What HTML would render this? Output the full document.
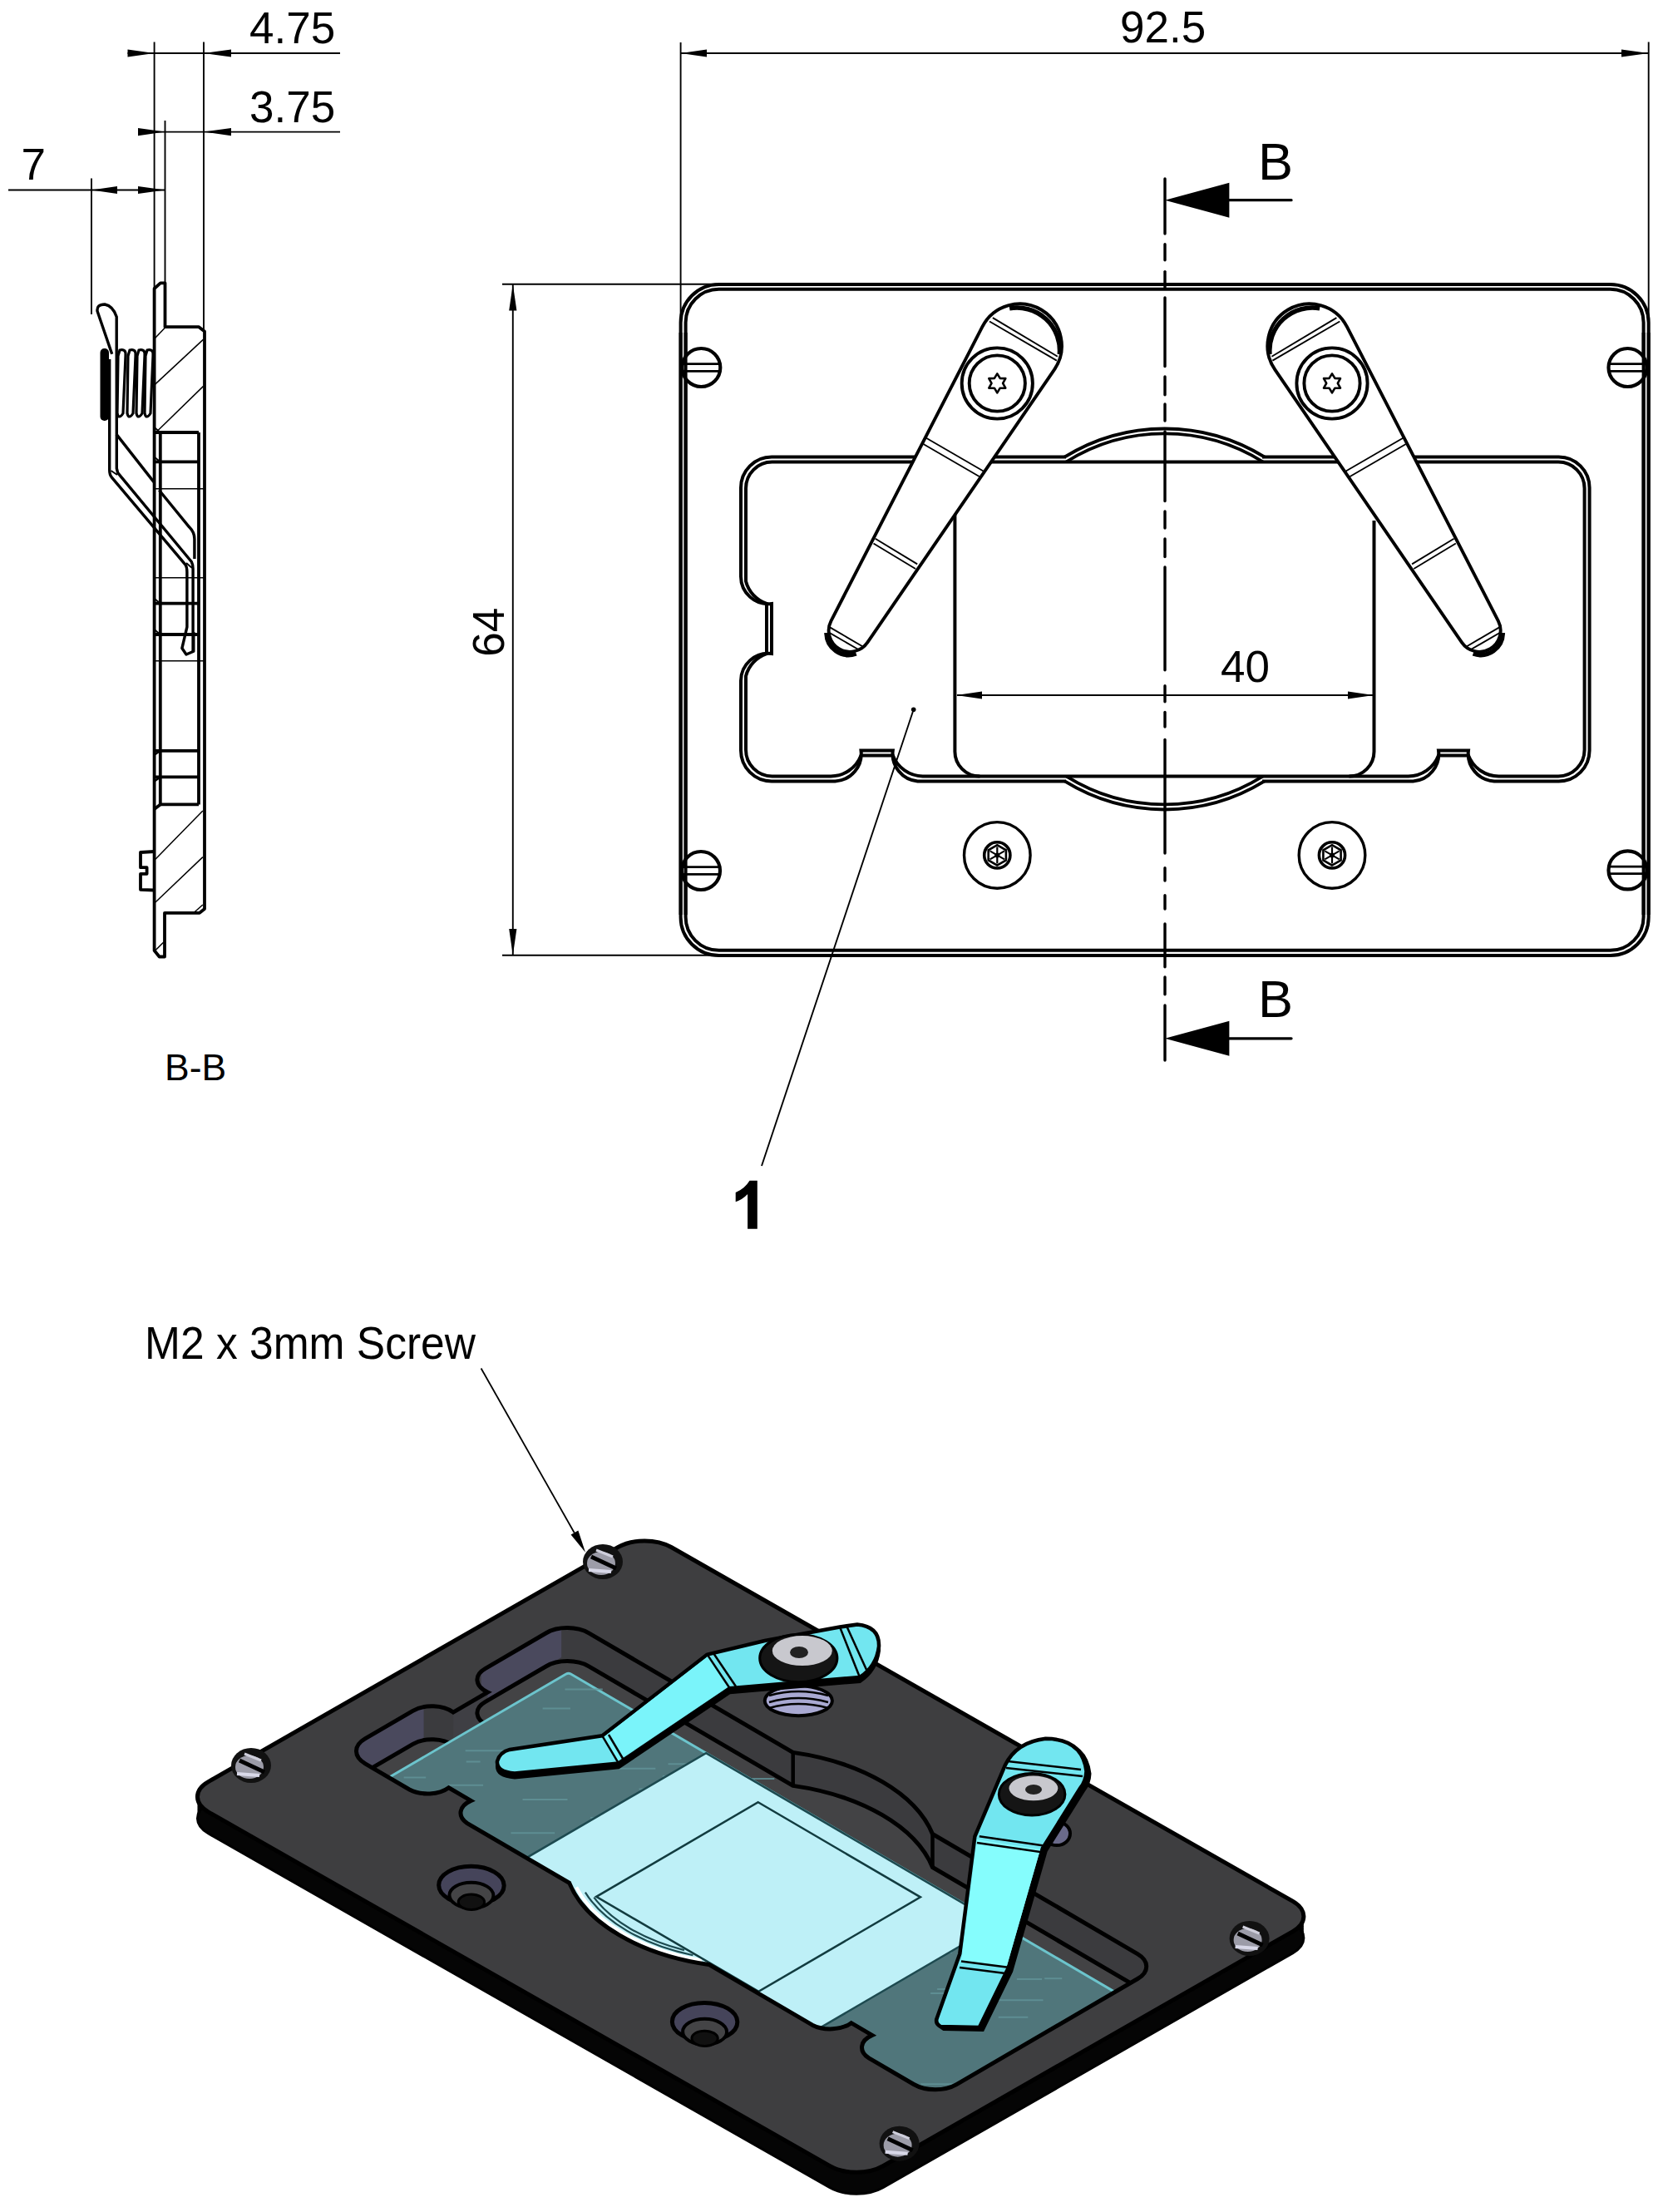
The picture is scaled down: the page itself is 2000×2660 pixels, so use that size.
<!DOCTYPE html>
<html><head><meta charset="utf-8"><style>html,body{margin:0;padding:0;background:#fff;}svg{display:block} text{font-family:"Liberation Sans", sans-serif;}</style></head>
<body><svg width="2000" height="2660" viewBox="0 0 2000 2660">
<rect width="2000" height="2660" fill="#fff"/>
<rect x="818.6" y="342" width="1164.1" height="807.0" rx="46" fill="none" stroke="#000" stroke-width="4.0"/>
<rect x="824.6" y="347.8" width="1152.0" height="795.0" rx="40" fill="none" stroke="#000" stroke-width="4.0"/>
<path d="M891,586.6 A37.0,37.0 0 0 1 928.0,549.6 L1874.6,549.6 A37.0,37.0 0 0 1 1911.6,586.6 L1911.6,902.4 A37.0,37.0 0 0 1 1874.6,939.4 L1797,939.4 A33,33 0 0 1 1766.0,902.4 L1730.0,902.4 A33,33 0 0 1 1699.5,939.4 L1103.6,939.4 A33,33 0 0 1 1073.8,902.4 L1035.5,902.4 A33,33 0 0 1 1004.3,939.4 L928.0,939.4 A37.0,37.0 0 0 1 891,902.4 L891,819 A33,33 0 0 1 928,786 L928,726 A33,33 0 0 1 891,693 Z" fill="none" stroke="#000" stroke-width="4.0"/>
<path d="M897,587.2 A31.6,31.6 0 0 1 928.6,555.6 L1874.0,555.6 A31.6,31.6 0 0 1 1905.6,587.2 L1905.6,901.8 A31.6,31.6 0 0 1 1874.0,933.4 L1803,933.4 A39,39 0 0 1 1766.0,908.4 L1730.0,908.4 A39,39 0 0 1 1693.5,933.4 L1109.6,933.4 A39,39 0 0 1 1073.8,908.4 L1035.5,908.4 A39,39 0 0 1 998.3,933.4 L928.6,933.4 A31.6,31.6 0 0 1 897,901.8 L897,813 A39,39 0 0 1 922,786 L922,726 A39,39 0 0 1 897,699 Z" fill="none" stroke="#000" stroke-width="4.0"/>
<rect x="1282" y="546.4" width="236" height="6.0" fill="#fff"/>
<rect x="1282" y="936.8" width="236" height="6.0" fill="#fff"/>
<path d="M1280.2,549.6 A229,229 0 0 1 1521.0,549.6" fill="none" stroke="#000" stroke-width="4.0"/>
<path d="M1280.5,939.4 A229,229 0 0 0 1520.7,939.4" fill="none" stroke="#000" stroke-width="4.0"/>
<path d="M1282.1,555.5 A223,223 0 0 1 1519.1,555.5" fill="none" stroke="#000" stroke-width="3.8"/>
<path d="M1282.6,933.6 A223,223 0 0 0 1518.6,933.6" fill="none" stroke="#000" stroke-width="3.8"/>
<path d="M1148.4,619 L1148.4,903 A30,30 0 0 0 1178.4,933.6" fill="none" stroke="#000" stroke-width="4"/>
<path d="M1652.5,626 L1652.5,903 A30,30 0 0 1 1622.5,933.6" fill="none" stroke="#000" stroke-width="4"/>
<circle cx="843.3" cy="442" r="23" fill="#fff" fill="none" stroke="#000" stroke-width="4.2"/>
<line x1="821.3" y1="437.7" x2="865.3" y2="437.7" stroke="#000" stroke-width="2.8" />
<line x1="821.3" y1="446.3" x2="865.3" y2="446.3" stroke="#000" stroke-width="2.8" />
<circle cx="1957.5" cy="442" r="23" fill="#fff" fill="none" stroke="#000" stroke-width="4.2"/>
<line x1="1935.5" y1="437.7" x2="1979.5" y2="437.7" stroke="#000" stroke-width="2.8" />
<line x1="1935.5" y1="446.3" x2="1979.5" y2="446.3" stroke="#000" stroke-width="2.8" />
<circle cx="843" cy="1047" r="23" fill="#fff" fill="none" stroke="#000" stroke-width="4.2"/>
<line x1="821.0" y1="1042.7" x2="865.0" y2="1042.7" stroke="#000" stroke-width="2.8" />
<line x1="821.0" y1="1051.3" x2="865.0" y2="1051.3" stroke="#000" stroke-width="2.8" />
<circle cx="1957.5" cy="1046.4" r="23" fill="#fff" fill="none" stroke="#000" stroke-width="4.2"/>
<line x1="1935.5" y1="1042.1" x2="1979.5" y2="1042.1" stroke="#000" stroke-width="2.8" />
<line x1="1935.5" y1="1050.7" x2="1979.5" y2="1050.7" stroke="#000" stroke-width="2.8" />
<line x1="818.6" y1="400.0" x2="818.6" y2="1100.0" stroke="#000" stroke-width="4.0" />
<line x1="1982.7" y1="400.0" x2="1982.7" y2="1100.0" stroke="#000" stroke-width="4.0" />
<line x1="824.6" y1="400.0" x2="824.6" y2="1100.0" stroke="#000" stroke-width="4.0" />
<line x1="1976.6" y1="400.0" x2="1976.6" y2="1100.0" stroke="#000" stroke-width="4.0" />
<circle cx="1199.3" cy="1028.4" r="39.8" fill="none" stroke="#000" stroke-width="3.4"/>
<circle cx="1199.3" cy="1028.4" r="15.6" fill="none" stroke="#000" stroke-width="3.6"/>
<polygon points="1199.3,1040.6 1188.7,1034.5 1188.7,1022.3 1199.3,1016.2 1209.9,1022.3 1209.9,1034.5" fill="none" stroke="#000" stroke-width="2.6"/>
<line x1="1199.3" y1="1018.4" x2="1199.3" y2="1038.4" stroke="#000" stroke-width="2.2" />
<line x1="1208.0" y1="1023.4" x2="1190.6" y2="1033.4" stroke="#000" stroke-width="2.2" />
<line x1="1208.0" y1="1033.4" x2="1190.6" y2="1023.4" stroke="#000" stroke-width="2.2" />
<circle cx="1199.3" cy="1028.4" r="3" fill="#000"/>
<circle cx="1602" cy="1028.4" r="39.8" fill="none" stroke="#000" stroke-width="3.4"/>
<circle cx="1602" cy="1028.4" r="15.6" fill="none" stroke="#000" stroke-width="3.6"/>
<polygon points="1602.0,1040.6 1591.4,1034.5 1591.4,1022.3 1602.0,1016.2 1612.6,1022.3 1612.6,1034.5" fill="none" stroke="#000" stroke-width="2.6"/>
<line x1="1602.0" y1="1018.4" x2="1602.0" y2="1038.4" stroke="#000" stroke-width="2.2" />
<line x1="1610.7" y1="1023.4" x2="1593.3" y2="1033.4" stroke="#000" stroke-width="2.2" />
<line x1="1610.7" y1="1033.4" x2="1593.3" y2="1023.4" stroke="#000" stroke-width="2.2" />
<circle cx="1602" cy="1028.4" r="3" fill="#000"/>
<path d="M1181.4,392.9 L999.5,746.6 A25.5,25.5 0 0 0 1043.2,772.7 L1267.9,444.6 A50.5,50.5 0 1 0 1181.4,392.9 Z" fill="#fff" fill="none" stroke="#000" stroke-width="3.9"/>
<path d="M1214.1,370.8 A51.5,51.5 0 0 1 1274.3,426.0" fill="none" stroke="#000" stroke-width="5.5"/>
<path d="M1029.6,785.9 A26.5,26.5 0 0 1 994.0,761.0" fill="none" stroke="#000" stroke-width="5.5"/>
<line x1="1193.9" y1="382.1" x2="1271.9" y2="428.8" stroke="#000" stroke-width="1.9" />
<line x1="1190.0" y1="386.5" x2="1270.9" y2="433.6" stroke="#000" stroke-width="1.9" />
<line x1="1114.0" y1="526.8" x2="1182.6" y2="566.5" stroke="#000" stroke-width="1.9" />
<line x1="1110.5" y1="534.0" x2="1179.0" y2="573.7" stroke="#000" stroke-width="1.9" />
<line x1="1052.7" y1="647.7" x2="1103.2" y2="678.4" stroke="#000" stroke-width="1.9" />
<line x1="1050.5" y1="653.5" x2="1101.0" y2="684.0" stroke="#000" stroke-width="1.9" />
<line x1="996.8" y1="753.6" x2="1037.2" y2="777.2" stroke="#000" stroke-width="1.9" />
<line x1="996.0" y1="760.0" x2="1034.0" y2="782.0" stroke="#000" stroke-width="1.9" />
<circle cx="1199.3" cy="461" r="42.6" fill="#fff" fill="none" stroke="#000" stroke-width="3.9"/>
<circle cx="1199.3" cy="461" r="33.6" fill="none" stroke="#000" stroke-width="3.9"/>
<path d="M1199.3,449.3 L1202.7,454.9 L1209.3,455.1 L1206.1,460.8 L1209.3,466.6 L1202.7,466.7 L1199.3,472.3 L1195.9,466.7 L1189.3,466.6 L1192.5,460.8 L1189.3,455.1 L1195.9,454.9 Z" fill="none" stroke="#000" stroke-width="2.6" stroke-linejoin="round"/>
<g transform="translate(2801.3,0) scale(-1,1)"><path d="M1181.4,392.9 L999.5,746.6 A25.5,25.5 0 0 0 1043.2,772.7 L1267.9,444.6 A50.5,50.5 0 1 0 1181.4,392.9 Z" fill="#fff" fill="none" stroke="#000" stroke-width="3.9"/>
<path d="M1214.1,370.8 A51.5,51.5 0 0 1 1274.3,426.0" fill="none" stroke="#000" stroke-width="5.5"/>
<path d="M1029.6,785.9 A26.5,26.5 0 0 1 994.0,761.0" fill="none" stroke="#000" stroke-width="5.5"/>
<line x1="1193.9" y1="382.1" x2="1271.9" y2="428.8" stroke="#000" stroke-width="1.9" />
<line x1="1190.0" y1="386.5" x2="1270.9" y2="433.6" stroke="#000" stroke-width="1.9" />
<line x1="1114.0" y1="526.8" x2="1182.6" y2="566.5" stroke="#000" stroke-width="1.9" />
<line x1="1110.5" y1="534.0" x2="1179.0" y2="573.7" stroke="#000" stroke-width="1.9" />
<line x1="1052.7" y1="647.7" x2="1103.2" y2="678.4" stroke="#000" stroke-width="1.9" />
<line x1="1050.5" y1="653.5" x2="1101.0" y2="684.0" stroke="#000" stroke-width="1.9" />
<line x1="996.8" y1="753.6" x2="1037.2" y2="777.2" stroke="#000" stroke-width="1.9" />
<line x1="996.0" y1="760.0" x2="1034.0" y2="782.0" stroke="#000" stroke-width="1.9" />
<circle cx="1199.3" cy="461" r="42.6" fill="#fff" fill="none" stroke="#000" stroke-width="3.9"/>
<circle cx="1199.3" cy="461" r="33.6" fill="none" stroke="#000" stroke-width="3.9"/>
<path d="M1199.3,449.3 L1202.7,454.9 L1209.3,455.1 L1206.1,460.8 L1209.3,466.6 L1202.7,466.7 L1199.3,472.3 L1195.9,466.7 L1189.3,466.6 L1192.5,460.8 L1189.3,455.1 L1195.9,454.9 Z" fill="none" stroke="#000" stroke-width="2.6" stroke-linejoin="round"/></g>
<path d="M185.6,347.0 L193.0,340.3 L198.5,340.3 L198.5,393.2 L239.2,393.2 L246.0,398.6 L246.0,1093.0 L240.0,1097.8 L198.0,1097.8 L198.0,1150.5 L191.6,1150.5 L185.6,1143.0 Z" fill="none" stroke="#000" stroke-width="3.8" stroke-linejoin="round"/>
<line x1="186.7" y1="1143.0" x2="196.8" y2="1133.0" stroke="#000" stroke-width="1.6" />
<path d="M185.6,1024.0 L169.0,1025.0 L169.0,1043.2 L176.6,1043.2 L176.6,1050.8 L169.0,1050.8 L169.0,1069.8 L185.6,1070.5" fill="none" stroke="#000" stroke-width="3.8" stroke-linejoin="round"/>
<line x1="192.8" y1="520.0" x2="192.8" y2="967.4" stroke="#000" stroke-width="3.8" />
<line x1="239.0" y1="520.0" x2="239.0" y2="967.4" stroke="#000" stroke-width="3.8" />
<line x1="185.6" y1="520.0" x2="239.0" y2="520.0" stroke="#000" stroke-width="3.8" />
<line x1="185.6" y1="555.4" x2="239.0" y2="555.4" stroke="#000" stroke-width="3.8" />
<line x1="185.6" y1="725.7" x2="239.0" y2="725.7" stroke="#000" stroke-width="3.8" />
<line x1="185.6" y1="763.0" x2="239.0" y2="763.0" stroke="#000" stroke-width="3.8" />
<line x1="185.6" y1="902.8" x2="239.0" y2="902.8" stroke="#000" stroke-width="3.8" />
<line x1="185.6" y1="934.4" x2="239.0" y2="934.4" stroke="#000" stroke-width="3.8" />
<line x1="192.8" y1="967.4" x2="239.0" y2="967.4" stroke="#000" stroke-width="3.8" />
<line x1="185.6" y1="973.0" x2="192.8" y2="967.4" stroke="#000" stroke-width="3.8" />
<line x1="185.6" y1="587.7" x2="246.0" y2="587.7" stroke="#000" stroke-width="1.5" />
<line x1="185.6" y1="694.7" x2="246.0" y2="694.7" stroke="#000" stroke-width="1.5" />
<line x1="185.6" y1="794.7" x2="246.0" y2="794.7" stroke="#000" stroke-width="1.5" />
<line x1="186.3" y1="406.8" x2="198.5" y2="393.9" stroke="#000" stroke-width="1.5" />
<line x1="186.3" y1="462.4" x2="244.6" y2="408.1" stroke="#000" stroke-width="1.5" />
<line x1="190.3" y1="517.3" x2="244.6" y2="464.4" stroke="#000" stroke-width="1.5" />
<line x1="186.9" y1="1033.2" x2="243.9" y2="975.0" stroke="#000" stroke-width="1.5" />
<line x1="186.9" y1="1085.0" x2="243.9" y2="1030.6" stroke="#000" stroke-width="1.5" />
<line x1="233.7" y1="1097.0" x2="243.9" y2="1088.0" stroke="#000" stroke-width="1.5" />
<path d="M131.7,432 L131.7,565 Q131.7,571 134.4,574.2 L223,679.1 Q224.9,682 224.9,688 L224.9,754 L218.9,779.5 L224,787 L232.8,783.3 L232.8,760" fill="none" stroke="#000" stroke-width="3.4" stroke-linejoin="round"/>
<path d="M140.3,523 L140.3,563.3 L141.7,568.7 L230.3,675.5 Q232.1,679 232.1,684 L232.1,783" fill="none" stroke="#000" stroke-width="3.4" stroke-linejoin="round"/>
<path d="M134.7,425.8 L117.1,374.2 Q116,366 126,366 Q136,368 140.2,381 L140.3,522.6 L185,579.6" fill="none" stroke="#000" stroke-width="3.4" stroke-linejoin="round"/>
<path d="M191.4,589.5 L227.6,633.8 Q233.9,640 233.9,648 L233.9,672" fill="none" stroke="#000" stroke-width="3.4" stroke-linejoin="round"/>
<line x1="133.5" y1="566.0" x2="141.0" y2="571.0" stroke="#000" stroke-width="2" />
<line x1="224.0" y1="677.0" x2="231.0" y2="683.0" stroke="#000" stroke-width="2" />
<rect x="120.5" y="419" width="10.5" height="87" rx="5" fill="#000"/>
<path d="M144,421 Q152,419 151,428 L148,497 Q143,505 141,497 L142,428 Z" fill="none" stroke="#000" stroke-width="3.2"/>
<path d="M156,421 Q164,419 163,428 L160,497 Q155,505 153,497 L154,428 Z" fill="none" stroke="#000" stroke-width="3.2"/>
<path d="M167,421 Q175,419 174,428 L171,497 Q166,505 164,497 L165,428 Z" fill="none" stroke="#000" stroke-width="3.2"/>
<path d="M177,421 Q185,419 184,428 L181,497 Q176,505 174,497 L175,428 Z" fill="none" stroke="#000" stroke-width="3.2"/>
<line x1="185.6" y1="514.0" x2="192.8" y2="520.0" stroke="#000" stroke-width="1.9" />
<line x1="185.6" y1="549.4" x2="192.8" y2="555.4" stroke="#000" stroke-width="1.9" />
<line x1="185.6" y1="719.7" x2="192.8" y2="725.7" stroke="#000" stroke-width="1.9" />
<line x1="185.6" y1="757.0" x2="192.8" y2="763.0" stroke="#000" stroke-width="1.9" />
<line x1="185.6" y1="907.8" x2="192.8" y2="902.8" stroke="#000" stroke-width="2.4" />
<line x1="185.6" y1="939.4" x2="192.8" y2="934.4" stroke="#000" stroke-width="2.4" />
<line x1="185.6" y1="50.5" x2="185.6" y2="350.0" stroke="#000" stroke-width="1.9" />
<line x1="245.0" y1="50.5" x2="245.0" y2="398.0" stroke="#000" stroke-width="1.9" />
<line x1="153.5" y1="64.0" x2="409.0" y2="64.0" stroke="#000" stroke-width="1.9" />
<polygon points="185.6,64.0 153.5,59.4 153.5,68.6" fill="#000"/>
<polygon points="245.0,64.0 278.0,68.6 278.0,59.4" fill="#000"/>
<text x="300" y="52.3" font-size="53" font-family="Liberation Sans, sans-serif">4.75</text>
<line x1="198.5" y1="145.0" x2="198.5" y2="340.0" stroke="#000" stroke-width="1.9" />
<line x1="166.0" y1="158.6" x2="409.0" y2="158.6" stroke="#000" stroke-width="1.9" />
<polygon points="198.5,158.6 166.0,154.0 166.0,163.2" fill="#000"/>
<polygon points="245.0,158.6 278.0,163.2 278.0,154.0" fill="#000"/>
<text x="300" y="146.5" font-size="53" font-family="Liberation Sans, sans-serif">3.75</text>
<line x1="110.0" y1="214.6" x2="110.0" y2="378.0" stroke="#000" stroke-width="1.9" />
<line x1="10.0" y1="228.5" x2="198.5" y2="228.5" stroke="#000" stroke-width="1.9" />
<polygon points="110.0,228.5 141.0,233.1 141.0,223.9" fill="#000"/>
<polygon points="198.5,228.5 166.0,223.9 166.0,233.1" fill="#000"/>
<text x="25.5" y="216" font-size="53" font-family="Liberation Sans, sans-serif">7</text>
<text x="198" y="1298.8" font-size="44.5" font-family="Liberation Sans, sans-serif">B-B</text>
<line x1="818.6" y1="51.0" x2="818.6" y2="395.0" stroke="#000" stroke-width="1.9" />
<line x1="1982.7" y1="50.5" x2="1982.7" y2="395.0" stroke="#000" stroke-width="1.9" />
<line x1="818.6" y1="64.0" x2="1982.7" y2="64.0" stroke="#000" stroke-width="1.9" />
<polygon points="818.6,64.0 850.0,68.6 850.0,59.4" fill="#000"/>
<polygon points="1982.7,64.0 1950.0,59.4 1950.0,68.6" fill="#000"/>
<text x="1347" y="51.4" font-size="53" font-family="Liberation Sans, sans-serif">92.5</text>
<line x1="604.0" y1="341.7" x2="862.0" y2="341.7" stroke="#000" stroke-width="1.9" />
<line x1="604.0" y1="1148.7" x2="866.0" y2="1148.7" stroke="#000" stroke-width="1.9" />
<line x1="616.8" y1="341.7" x2="616.8" y2="1148.7" stroke="#000" stroke-width="1.9" />
<polygon points="616.8,341.7 612.2,373.5 621.4,373.5" fill="#000"/>
<polygon points="616.8,1148.7 621.4,1117.0 612.2,1117.0" fill="#000"/>
<text transform="translate(605.7,789.8) rotate(-90)" font-size="53" font-family="Liberation Sans, sans-serif">64</text>
<line x1="1151.0" y1="836.0" x2="1652.0" y2="836.0" stroke="#000" stroke-width="1.9" />
<polygon points="1150.0,836.0 1181.0,840.6 1181.0,831.4" fill="#000"/>
<polygon points="1652.0,836.0 1621.0,831.4 1621.0,840.6" fill="#000"/>
<text x="1468" y="819.5" font-size="53" font-family="Liberation Sans, sans-serif">40</text>
<circle cx="1098.7" cy="853.3" r="2.8" fill="#000"/>
<line x1="1098.7" y1="853.3" x2="916.0" y2="1402.0" stroke="#000" stroke-width="1.9" />
<path d="M901.5,1419.7 L910.8,1419.7 L910.8,1477.7 L899.1,1477.7 L899.1,1436 Q893,1442.5 884.7,1445.2 L884.7,1434.1 Q896,1429 901.5,1419.7 Z" fill="#000"/>
<polygon points="1401.0,240.7 1478.4,261.7 1478.4,219.7" fill="#000"/>
<line x1="1478.0" y1="240.7" x2="1553.0" y2="240.7" stroke="#000" stroke-width="3.3" stroke-linecap="round"/>
<text x="1513" y="215.6" font-size="63" font-family="Liberation Sans, sans-serif">B</text>
<polygon points="1401.0,1248.8 1478.4,1269.8 1478.4,1227.8" fill="#000"/>
<line x1="1478.0" y1="1248.8" x2="1553.0" y2="1248.8" stroke="#000" stroke-width="3.3" stroke-linecap="round"/>
<text x="1513" y="1223" font-size="63" font-family="Liberation Sans, sans-serif">B</text>
<line x1="1401.0" y1="215.0" x2="1401.0" y2="281.0" stroke="#000" stroke-width="3.4" stroke-linecap="round"/>
<line x1="1401.0" y1="293.7" x2="1401.0" y2="312.7" stroke="#000" stroke-width="3.4" stroke-linecap="round"/>
<line x1="1401.0" y1="326.6" x2="1401.0" y2="345.6" stroke="#000" stroke-width="3.4" stroke-linecap="round"/>
<line x1="1401.0" y1="358.0" x2="1401.0" y2="440.5" stroke="#000" stroke-width="3.4" stroke-linecap="round"/>
<line x1="1401.0" y1="453.0" x2="1401.0" y2="474.7" stroke="#000" stroke-width="3.4" stroke-linecap="round"/>
<line x1="1401.0" y1="486.0" x2="1401.0" y2="506.0" stroke="#000" stroke-width="3.4" stroke-linecap="round"/>
<line x1="1401.0" y1="519.0" x2="1401.0" y2="602.5" stroke="#000" stroke-width="3.4" stroke-linecap="round"/>
<line x1="1401.0" y1="615.0" x2="1401.0" y2="635.0" stroke="#000" stroke-width="3.4" stroke-linecap="round"/>
<line x1="1401.0" y1="648.0" x2="1401.0" y2="669.6" stroke="#000" stroke-width="3.4" stroke-linecap="round"/>
<line x1="1401.0" y1="682.0" x2="1401.0" y2="805.8" stroke="#000" stroke-width="3.4" stroke-linecap="round"/>
<line x1="1401.0" y1="824.8" x2="1401.0" y2="843.8" stroke="#000" stroke-width="3.4" stroke-linecap="round"/>
<line x1="1401.0" y1="856.5" x2="1401.0" y2="874.0" stroke="#000" stroke-width="3.4" stroke-linecap="round"/>
<line x1="1401.0" y1="889.4" x2="1401.0" y2="1026.0" stroke="#000" stroke-width="3.4" stroke-linecap="round"/>
<line x1="1401.0" y1="1043.8" x2="1401.0" y2="1059.0" stroke="#000" stroke-width="3.4" stroke-linecap="round"/>
<line x1="1401.0" y1="1076.7" x2="1401.0" y2="1093.0" stroke="#000" stroke-width="3.4" stroke-linecap="round"/>
<line x1="1401.0" y1="1111.0" x2="1401.0" y2="1162.8" stroke="#000" stroke-width="3.4" stroke-linecap="round"/>
<line x1="1401.0" y1="1175.0" x2="1401.0" y2="1195.7" stroke="#000" stroke-width="3.4" stroke-linecap="round"/>
<line x1="1401.0" y1="1209.0" x2="1401.0" y2="1275.0" stroke="#000" stroke-width="3.4" stroke-linecap="round"/>
<defs><clipPath id="op"><path transform="matrix(0.697 0.40740000000000004 -0.69 0.4027 440.6 1364.5)" d="M891,586.6 A37,37 0 0 1 928,549.6 L1280.2,549.6 A229,229 0 0 1 1521,549.6 L1874.6,549.6 A37,37 0 0 1 1911.6,586.6 L1911.6,902.4 A37,37 0 0 1 1874.6,939.4 L1797,939.4 A33,33 0 0 1 1766,902.4 L1730,902.4 A33,33 0 0 1 1699.5,939.4 L1521,939.4 A229,229 0 0 1 1280.2,939.4 L1103.6,939.4 A33,33 0 0 1 1073.8,902.4 L1035.5,902.4 A33,33 0 0 1 1004.3,939.4 L928,939.4 A37,37 0 0 1 891,902.4 L891,819 A33,33 0 0 1 928,786 L928,726 A33,33 0 0 1 891,693 Z" fill-rule="nonzero"/></clipPath><clipPath id="plateclip"><path transform="matrix(0.697 0.397 -0.69 0.395 440.6 1382.2)" d="M864.6,342 L1936.7,342 A46,46 0 0 1 1982.7,388 L1982.7,1102.4 A46,46 0 0 1 1936.7,1148.4 L864.6,1148.4 A46,46 0 0 1 818.6,1102.4 L818.6,388 A46,46 0 0 1 864.6,342 Z"/></clipPath></defs>
<path transform="matrix(0.697 0.397 -0.69 0.395 440.6 1382.2)" d="M864.6,342 L1936.7,342 A46,46 0 0 1 1982.7,388 L1982.7,1102.4 A46,46 0 0 1 1936.7,1148.4 L864.6,1148.4 A46,46 0 0 1 818.6,1102.4 L818.6,388 A46,46 0 0 1 864.6,342 Z" fill="#050505"/>
<path transform="matrix(0.697 0.397 -0.69 0.395 440.6 1385.2)" d="M864.6,342 L1936.7,342 A46,46 0 0 1 1982.7,388 L1982.7,1102.4 A46,46 0 0 1 1936.7,1148.4 L864.6,1148.4 A46,46 0 0 1 818.6,1102.4 L818.6,388 A46,46 0 0 1 864.6,342 Z" fill="#050505"/>
<path transform="matrix(0.697 0.397 -0.69 0.395 440.6 1388.2)" d="M864.6,342 L1936.7,342 A46,46 0 0 1 1982.7,388 L1982.7,1102.4 A46,46 0 0 1 1936.7,1148.4 L864.6,1148.4 A46,46 0 0 1 818.6,1102.4 L818.6,388 A46,46 0 0 1 864.6,342 Z" fill="#050505"/>
<path transform="matrix(0.697 0.397 -0.69 0.395 440.6 1391.2)" d="M864.6,342 L1936.7,342 A46,46 0 0 1 1982.7,388 L1982.7,1102.4 A46,46 0 0 1 1936.7,1148.4 L864.6,1148.4 A46,46 0 0 1 818.6,1102.4 L818.6,388 A46,46 0 0 1 864.6,342 Z" fill="#050505"/>
<path transform="matrix(0.697 0.397 -0.69 0.395 440.6 1394.2)" d="M864.6,342 L1936.7,342 A46,46 0 0 1 1982.7,388 L1982.7,1102.4 A46,46 0 0 1 1936.7,1148.4 L864.6,1148.4 A46,46 0 0 1 818.6,1102.4 L818.6,388 A46,46 0 0 1 864.6,342 Z" fill="#050505"/>
<path transform="matrix(0.697 0.397 -0.69 0.395 440.6 1397.2)" d="M864.6,342 L1936.7,342 A46,46 0 0 1 1982.7,388 L1982.7,1102.4 A46,46 0 0 1 1936.7,1148.4 L864.6,1148.4 A46,46 0 0 1 818.6,1102.4 L818.6,388 A46,46 0 0 1 864.6,342 Z" fill="#050505"/>
<path transform="matrix(0.697 0.397 -0.69 0.395 440.6 1400.2)" d="M864.6,342 L1936.7,342 A46,46 0 0 1 1982.7,388 L1982.7,1102.4 A46,46 0 0 1 1936.7,1148.4 L864.6,1148.4 A46,46 0 0 1 818.6,1102.4 L818.6,388 A46,46 0 0 1 864.6,342 Z" fill="#050505"/>
<path transform="matrix(0.697 0.397 -0.69 0.395 440.6 1403.2)" d="M864.6,342 L1936.7,342 A46,46 0 0 1 1982.7,388 L1982.7,1102.4 A46,46 0 0 1 1936.7,1148.4 L864.6,1148.4 A46,46 0 0 1 818.6,1102.4 L818.6,388 A46,46 0 0 1 864.6,342 Z" fill="#050505"/>
<path transform="matrix(0.697 0.397 -0.69 0.395 440.6 1406.2)" d="M864.6,342 L1936.7,342 A46,46 0 0 1 1982.7,388 L1982.7,1102.4 A46,46 0 0 1 1936.7,1148.4 L864.6,1148.4 A46,46 0 0 1 818.6,1102.4 L818.6,388 A46,46 0 0 1 864.6,342 Z" fill="#050505"/>
<path transform="matrix(0.697 0.397 -0.69 0.395 440.6 1408.2)" d="M864.6,342 L1936.7,342 A46,46 0 0 1 1982.7,388 L1982.7,1102.4 A46,46 0 0 1 1936.7,1148.4 L864.6,1148.4 A46,46 0 0 1 818.6,1102.4 L818.6,388 A46,46 0 0 1 864.6,342 Z" fill="#050505" stroke="#000" stroke-width="3" vector-effect="non-scaling-stroke"/>
<path transform="matrix(0.697 0.397 -0.69 0.395 440.6 1382.2)" d="M864.6,342 L1936.7,342 A46,46 0 0 1 1982.7,388 L1982.7,1102.4 A46,46 0 0 1 1936.7,1148.4 L864.6,1148.4 A46,46 0 0 1 818.6,1102.4 L818.6,388 A46,46 0 0 1 864.6,342 Z" fill="#3e3e40" stroke="#000" stroke-width="5" vector-effect="non-scaling-stroke"/>
<g clip-path="url(#op)"><rect x="300" y="1900" width="1300" height="700" fill="#3b3b3e"/>
<polygon points="675.2,1953.0 578.6,2009.4 578.6,2049.4 675.2,1993.0" fill="#4a495d"/>
<polygon points="509.6,2049.7 419.9,2102.0 419.9,2142.0 509.6,2089.7" fill="#4a495d"/>
<polygon points="586.5,2034.9 545.1,2059.1 545.1,2099.1 586.5,2074.9" fill="#3f3f44"/>
<path transform="matrix(0.697 0.40740000000000004 -0.69 0.4027 440.6 1404.5)" d="M891,586.6 A37,37 0 0 1 928,549.6 L1280.2,549.6 A229,229 0 0 1 1521,549.6 L1874.6,549.6 A37,37 0 0 1 1911.6,586.6 L1911.6,902.4 A37,37 0 0 1 1874.6,939.4 L1797,939.4 A33,33 0 0 1 1766,902.4 L1730,902.4 A33,33 0 0 1 1699.5,939.4 L1521,939.4 A229,229 0 0 1 1280.2,939.4 L1103.6,939.4 A33,33 0 0 1 1073.8,902.4 L1035.5,902.4 A33,33 0 0 1 1004.3,939.4 L928,939.4 A37,37 0 0 1 891,902.4 L891,819 A33,33 0 0 1 928,786 L928,726 A33,33 0 0 1 891,693 Z" fill="#434345" stroke="#000" stroke-width="5" vector-effect="non-scaling-stroke"/>
<path transform="matrix(0.697 0.40740000000000004 -0.69 0.4027 440.6 1411.5)" d="M915,568 L1888,568 A4,4 0 0 1 1892,572 L1892,924 A4,4 0 0 1 1888,928 L915,928 A4,4 0 0 1 911,924 L911,572 A4,4 0 0 1 915,568 Z" fill="#50767b" stroke="#6cc4cc" stroke-width="3" vector-effect="non-scaling-stroke"/>
<line x1="710.1" y1="2186.0" x2="741.7" y2="2186.0" stroke="#62959a" stroke-width="2" opacity="0.8"/>
<line x1="940.6" y1="2343.7" x2="958.6" y2="2343.7" stroke="#62959a" stroke-width="2" opacity="0.8"/>
<line x1="485.6" y1="2137.5" x2="512.2" y2="2137.5" stroke="#62959a" stroke-width="2" opacity="0.8"/>
<line x1="598.6" y1="2248.2" x2="634.8" y2="2248.2" stroke="#62959a" stroke-width="2" opacity="0.8"/>
<line x1="1135.7" y1="2415.6" x2="1179.5" y2="2415.6" stroke="#62959a" stroke-width="2" opacity="0.8"/>
<line x1="628.5" y1="2163.9" x2="682.5" y2="2163.9" stroke="#62959a" stroke-width="2" opacity="0.8"/>
<line x1="857.5" y1="2327.8" x2="902.7" y2="2327.8" stroke="#62959a" stroke-width="2" opacity="0.8"/>
<line x1="539.5" y1="2146.7" x2="581.1" y2="2146.7" stroke="#62959a" stroke-width="2" opacity="0.8"/>
<line x1="877.3" y1="2139.0" x2="931.3" y2="2139.0" stroke="#62959a" stroke-width="2" opacity="0.8"/>
<line x1="828.5" y1="2304.4" x2="883.0" y2="2304.4" stroke="#62959a" stroke-width="2" opacity="0.8"/>
<line x1="944.7" y1="2429.4" x2="977.4" y2="2429.4" stroke="#62959a" stroke-width="2" opacity="0.8"/>
<line x1="1119.1" y1="2397.0" x2="1176.2" y2="2397.0" stroke="#62959a" stroke-width="2" opacity="0.8"/>
<line x1="1256.2" y1="2379.2" x2="1277.3" y2="2379.2" stroke="#62959a" stroke-width="2" opacity="0.8"/>
<line x1="594.0" y1="2237.0" x2="628.6" y2="2237.0" stroke="#62959a" stroke-width="2" opacity="0.8"/>
<line x1="1034.6" y1="2307.1" x2="1072.4" y2="2307.1" stroke="#62959a" stroke-width="2" opacity="0.8"/>
<line x1="857.9" y1="2217.9" x2="899.2" y2="2217.9" stroke="#62959a" stroke-width="2" opacity="0.8"/>
<line x1="859.9" y1="2375.1" x2="905.6" y2="2375.1" stroke="#62959a" stroke-width="2" opacity="0.8"/>
<line x1="1107.2" y1="2506.2" x2="1166.8" y2="2506.2" stroke="#62959a" stroke-width="2" opacity="0.8"/>
<line x1="1098.4" y1="2305.5" x2="1152.1" y2="2305.5" stroke="#62959a" stroke-width="2" opacity="0.8"/>
<line x1="1119.9" y1="2527.2" x2="1160.5" y2="2527.2" stroke="#62959a" stroke-width="2" opacity="0.8"/>
<line x1="1115.9" y1="2329.2" x2="1168.3" y2="2329.2" stroke="#62959a" stroke-width="2" opacity="0.8"/>
<line x1="1002.2" y1="2283.6" x2="1020.0" y2="2283.6" stroke="#62959a" stroke-width="2" opacity="0.8"/>
<line x1="1023.7" y1="2495.0" x2="1042.7" y2="2495.0" stroke="#62959a" stroke-width="2" opacity="0.8"/>
<line x1="1127.1" y1="2392.0" x2="1148.9" y2="2392.0" stroke="#62959a" stroke-width="2" opacity="0.8"/>
<line x1="694.1" y1="2240.0" x2="748.4" y2="2240.0" stroke="#62959a" stroke-width="2" opacity="0.8"/>
<line x1="560.6" y1="2118.5" x2="577.6" y2="2118.5" stroke="#62959a" stroke-width="2" opacity="0.8"/>
<line x1="1090.1" y1="2348.0" x2="1144.8" y2="2348.0" stroke="#62959a" stroke-width="2" opacity="0.8"/>
<line x1="1227.3" y1="2477.4" x2="1287.2" y2="2477.4" stroke="#62959a" stroke-width="2" opacity="0.8"/>
<line x1="872.0" y1="2148.8" x2="914.0" y2="2148.8" stroke="#62959a" stroke-width="2" opacity="0.8"/>
<line x1="652.6" y1="2054.6" x2="686.0" y2="2054.6" stroke="#62959a" stroke-width="2" opacity="0.8"/>
<line x1="1058.5" y1="2280.2" x2="1075.4" y2="2280.2" stroke="#62959a" stroke-width="2" opacity="0.8"/>
<line x1="1196.4" y1="2405.2" x2="1254.5" y2="2405.2" stroke="#62959a" stroke-width="2" opacity="0.8"/>
<line x1="1200.7" y1="2425.8" x2="1236.4" y2="2425.8" stroke="#62959a" stroke-width="2" opacity="0.8"/>
<line x1="878.9" y1="2312.8" x2="920.7" y2="2312.8" stroke="#62959a" stroke-width="2" opacity="0.8"/>
<line x1="911.5" y1="2325.1" x2="968.8" y2="2325.1" stroke="#62959a" stroke-width="2" opacity="0.8"/>
<line x1="921.4" y1="2277.6" x2="968.8" y2="2277.6" stroke="#62959a" stroke-width="2" opacity="0.8"/>
<line x1="768.6" y1="2151.6" x2="827.6" y2="2151.6" stroke="#62959a" stroke-width="2" opacity="0.8"/>
<line x1="902.7" y1="2299.8" x2="918.2" y2="2299.8" stroke="#62959a" stroke-width="2" opacity="0.8"/>
<line x1="822.7" y1="2261.9" x2="838.6" y2="2261.9" stroke="#62959a" stroke-width="2" opacity="0.8"/>
<line x1="947.2" y1="2349.4" x2="964.9" y2="2349.4" stroke="#62959a" stroke-width="2" opacity="0.8"/>
<line x1="995.2" y1="2330.6" x2="1040.7" y2="2330.6" stroke="#62959a" stroke-width="2" opacity="0.8"/>
<line x1="749.2" y1="2254.7" x2="797.4" y2="2254.7" stroke="#62959a" stroke-width="2" opacity="0.8"/>
<line x1="679.4" y1="2031.6" x2="724.8" y2="2031.6" stroke="#62959a" stroke-width="2" opacity="0.8"/>
<line x1="1276.8" y1="2434.6" x2="1312.4" y2="2434.6" stroke="#62959a" stroke-width="2" opacity="0.8"/>
<line x1="1006.8" y1="2296.2" x2="1038.2" y2="2296.2" stroke="#62959a" stroke-width="2" opacity="0.8"/>
<line x1="803.5" y1="2191.2" x2="845.3" y2="2191.2" stroke="#62959a" stroke-width="2" opacity="0.8"/>
<line x1="793.1" y1="2187.4" x2="842.9" y2="2187.4" stroke="#62959a" stroke-width="2" opacity="0.8"/>
<line x1="559.7" y1="2105.2" x2="607.8" y2="2105.2" stroke="#62959a" stroke-width="2" opacity="0.8"/>
<line x1="837.1" y1="2169.5" x2="888.2" y2="2169.5" stroke="#62959a" stroke-width="2" opacity="0.8"/>
<line x1="796.8" y1="2136.0" x2="831.4" y2="2136.0" stroke="#62959a" stroke-width="2" opacity="0.8"/>
<line x1="1131.5" y1="2307.5" x2="1161.0" y2="2307.5" stroke="#62959a" stroke-width="2" opacity="0.8"/>
<line x1="705.7" y1="2265.1" x2="740.5" y2="2265.1" stroke="#62959a" stroke-width="2" opacity="0.8"/>
<line x1="1222.9" y1="2380.0" x2="1253.1" y2="2380.0" stroke="#62959a" stroke-width="2" opacity="0.8"/>
<line x1="909.7" y1="2398.8" x2="945.0" y2="2398.8" stroke="#62959a" stroke-width="2" opacity="0.8"/>
<line x1="803.5" y1="2121.2" x2="842.3" y2="2121.2" stroke="#62959a" stroke-width="2" opacity="0.8"/>
<line x1="614.4" y1="2204.2" x2="667.2" y2="2204.2" stroke="#62959a" stroke-width="2" opacity="0.8"/>
<line x1="737.1" y1="2126.8" x2="788.4" y2="2126.8" stroke="#62959a" stroke-width="2" opacity="0.8"/>
<line x1="923.0" y1="2384.4" x2="953.6" y2="2384.4" stroke="#62959a" stroke-width="2" opacity="0.8"/>
<line x1="697.0" y1="2107.2" x2="747.7" y2="2107.2" stroke="#62959a" stroke-width="2" opacity="0.8"/>
<line x1="780.6" y1="2171.4" x2="814.4" y2="2171.4" stroke="#62959a" stroke-width="2" opacity="0.8"/>
<path transform="matrix(0.697 0.40740000000000004 -0.69 0.4027 440.6 1411.5)" d="M1148.4,568 L1652.5,568 L1652.5,933.6 L1148.4,933.6 Z" fill="#bef0f7" stroke="#1d4a50" stroke-width="2.5" vector-effect="non-scaling-stroke"/>
<path transform="matrix(0.697 0.40740000000000004 -0.69 0.4027 440.6 1411.5)" d="M1280,939 A229,229 0 0 0 1521,939 Z" fill="#bef0f7"/>
<path transform="matrix(0.697 0.40740000000000004 -0.69 0.4027 440.6 1364.5)" d="M1292.4,939.4 A223,223 0 0 0 1508.8,939.4" fill="none" stroke="#ffffff" stroke-width="4" vector-effect="non-scaling-stroke"/>
<path transform="matrix(0.697 0.40740000000000004 -0.69 0.4027 440.6 1364.5)" d="M1307.7,939.4 A216,216 0 0 0 1493.5,939.4" fill="none" stroke="#1d4a50" stroke-width="2.2" vector-effect="non-scaling-stroke"/>
<path transform="matrix(0.697 0.40740000000000004 -0.69 0.4027 440.6 1364.5)" d="M1322.7,939.4 A210,210 0 0 0 1478.5,939.4" fill="none" stroke="#1d4a50" stroke-width="2.2" vector-effect="non-scaling-stroke"/>
<path transform="matrix(0.697 0.40740000000000004 -0.69 0.4027 440.6 1411.5)" d="M1266,596 L1546,596 L1546,878 L1266,878 Z" fill="none" stroke="#123c40" stroke-width="2.5" vector-effect="non-scaling-stroke"/></g>
<line x1="953.7" y1="2107.4" x2="953.7" y2="2147.4" stroke="#000" stroke-width="4.5"/>
<line x1="1121.5" y1="2205.5" x2="1121.5" y2="2245.5" stroke="#000" stroke-width="4.5"/>
<path transform="matrix(0.697 0.40740000000000004 -0.69 0.4027 440.6 1364.5)" d="M891,586.6 A37,37 0 0 1 928,549.6 L1280.2,549.6 A229,229 0 0 1 1521,549.6 L1874.6,549.6 A37,37 0 0 1 1911.6,586.6 L1911.6,902.4 A37,37 0 0 1 1874.6,939.4 L1797,939.4 A33,33 0 0 1 1766,902.4 L1730,902.4 A33,33 0 0 1 1699.5,939.4 L1521,939.4 A229,229 0 0 1 1280.2,939.4 L1103.6,939.4 A33,33 0 0 1 1073.8,902.4 L1035.5,902.4 A33,33 0 0 1 1004.3,939.4 L928,939.4 A37,37 0 0 1 891,902.4 L891,819 A33,33 0 0 1 928,786 L928,726 A33,33 0 0 1 891,693 Z" fill="none" stroke="#000" stroke-width="5" vector-effect="non-scaling-stroke"/>
<circle transform="matrix(0.697 0.40740000000000004 -0.69 0.4027 440.6 1364.5)" cx="1199.3" cy="1028.4" r="40" fill="#45445a" stroke="#000" stroke-width="5" vector-effect="non-scaling-stroke"/>
<circle transform="matrix(0.697 0.40740000000000004 -0.69 0.4027 440.6 1376.5)" cx="1199.3" cy="1028.4" r="27" fill="#444446" stroke="#000" stroke-width="4" vector-effect="non-scaling-stroke"/>
<circle transform="matrix(0.697 0.40740000000000004 -0.69 0.4027 440.6 1384.5)" cx="1199.3" cy="1028.4" r="16" fill="#111" stroke="#000" stroke-width="3" vector-effect="non-scaling-stroke"/>
<circle transform="matrix(0.697 0.40740000000000004 -0.69 0.4027 440.6 1364.5)" cx="1602" cy="1028.4" r="40" fill="#45445a" stroke="#000" stroke-width="5" vector-effect="non-scaling-stroke"/>
<circle transform="matrix(0.697 0.40740000000000004 -0.69 0.4027 440.6 1376.5)" cx="1602" cy="1028.4" r="27" fill="#444446" stroke="#000" stroke-width="4" vector-effect="non-scaling-stroke"/>
<circle transform="matrix(0.697 0.40740000000000004 -0.69 0.4027 440.6 1384.5)" cx="1602" cy="1028.4" r="16" fill="#111" stroke="#000" stroke-width="3" vector-effect="non-scaling-stroke"/>
<ellipse cx="725" cy="1878" rx="24" ry="21" fill="#111"/>
<ellipse cx="723" cy="1880" rx="17" ry="14" fill="#9c9ca8"/>
<path d="M711,1872 L741,1886" stroke="#000" stroke-width="5"/>
<path d="M708,1888 L735,1890" stroke="#d8d8e8" stroke-width="4"/>
<path d="M717,1864 L737,1872" stroke="#cfcfdc" stroke-width="3"/>
<ellipse cx="302" cy="2123" rx="24" ry="21" fill="#111"/>
<ellipse cx="300" cy="2125" rx="17" ry="14" fill="#9c9ca8"/>
<path d="M288,2117 L318,2131" stroke="#000" stroke-width="5"/>
<path d="M285,2133 L312,2135" stroke="#d8d8e8" stroke-width="4"/>
<path d="M294,2109 L314,2117" stroke="#cfcfdc" stroke-width="3"/>
<ellipse cx="1502.6" cy="2331" rx="24" ry="21" fill="#111"/>
<ellipse cx="1500.6" cy="2333" rx="17" ry="14" fill="#9c9ca8"/>
<path d="M1488.6,2325 L1518.6,2339" stroke="#000" stroke-width="5"/>
<path d="M1485.6,2341 L1512.6,2343" stroke="#d8d8e8" stroke-width="4"/>
<path d="M1494.6,2317 L1514.6,2325" stroke="#cfcfdc" stroke-width="3"/>
<ellipse cx="1081.6" cy="2577.7" rx="24" ry="21" fill="#111"/>
<ellipse cx="1079.6" cy="2579.7" rx="17" ry="14" fill="#9c9ca8"/>
<path d="M1067.6,2571.7 L1097.6,2585.7" stroke="#000" stroke-width="5"/>
<path d="M1064.6,2587.7 L1091.6,2589.7" stroke="#d8d8e8" stroke-width="4"/>
<path d="M1073.6,2563.7 L1093.6,2571.7" stroke="#cfcfdc" stroke-width="3"/>
<ellipse cx="960.3" cy="2045.2" rx="40.6" ry="18" fill="#a9a9d2" stroke="#000" stroke-width="4"/>
<path d="M925,2039 Q960,2029 996,2039" fill="none" stroke="#000" stroke-width="2.5"/>
<path d="M925,2047 Q960,2037 996,2047" fill="none" stroke="#000" stroke-width="2.5"/>
<path d="M925,2054 Q960,2044 996,2054" fill="none" stroke="#000" stroke-width="2.5"/>
<path transform="translate(0,5)" d="M613,2103.9 L724.3,2087.3 L850.6,1989.6 L919.7,1973 L1010,1956.5 L1031,1953.5 Q1058,1956 1057,1980 Q1054,2004 1034,2017 L877.7,2030.2 L743.9,2120.4 L619,2132.4 Q597,2131 598,2118 Q601,2107 613,2103.9 Z" fill="#000" stroke="#000" stroke-width="4"/>
<path d="M613,2103.9 L724.3,2087.3 L850.6,1989.6 L919.7,1973 L1010,1956.5 L1031,1953.5 Q1058,1956 1057,1980 Q1054,2004 1034,2017 L877.7,2030.2 L743.9,2120.4 L619,2132.4 Q597,2131 598,2118 Q601,2107 613,2103.9 Z" fill="#72e6f0" stroke="#000" stroke-width="4.5" stroke-linejoin="round"/>
<polygon points="726,2089 851,1992 876,2028 742,2118" fill="#7af4fa"/>
<line x1="724.3" y1="2087.3" x2="743.9" y2="2120.4" stroke="#000" stroke-width="2.5"/>
<line x1="732" y1="2086" x2="751" y2="2118" stroke="#000" stroke-width="2.5"/>
<line x1="850.6" y1="1989.6" x2="877.7" y2="2030.2" stroke="#000" stroke-width="2.5"/>
<line x1="858" y1="1988" x2="885" y2="2028" stroke="#000" stroke-width="2.5"/>
<line x1="1010" y1="1956.5" x2="1034" y2="2017" stroke="#000" stroke-width="2.5"/>
<line x1="1018" y1="1955" x2="1043" y2="2010" stroke="#000" stroke-width="2.5"/>
<ellipse cx="960.3" cy="1994.1" rx="46.6" ry="28.6" fill="#151515" stroke="#000" stroke-width="3"/>
<ellipse cx="964.8" cy="1985.1" rx="36" ry="18" fill="#c8c8ce"/>
<ellipse cx="961" cy="1987" rx="11" ry="7" fill="#222"/>
<ellipse cx="1271" cy="2205" rx="16" ry="14" fill="#6a6a8a" stroke="#000" stroke-width="4"/>
<path transform="translate(4,3)" d="M1208.5,2123.3 Q1222,2095 1257.4,2090.8 Q1302,2091 1306.5,2130 Q1306,2142 1299,2150.4 L1253.8,2222.8 L1212.2,2367.5 L1177.8,2438 L1131,2437 Q1124,2433 1127.1,2426 L1154.3,2349.4 L1172.4,2208.3 Z" fill="#000" stroke="#000" stroke-width="4"/>
<path d="M1208.5,2123.3 Q1222,2095 1257.4,2090.8 Q1302,2091 1306.5,2130 Q1306,2142 1299,2150.4 L1253.8,2222.8 L1212.2,2367.5 L1177.8,2438 L1131,2437 Q1124,2433 1127.1,2426 L1154.3,2349.4 L1172.4,2208.3 Z" fill="#72e6f0" stroke="#000" stroke-width="4.5" stroke-linejoin="round"/>
<polygon points="1175,2212 1251,2224 1211,2364 1156,2358" fill="#85fdfd"/>
<line x1="1177.8" y1="2208.3" x2="1253.8" y2="2219.2" stroke="#000" stroke-width="2.5"/>
<line x1="1175" y1="2216" x2="1251" y2="2227" stroke="#000" stroke-width="2.5"/>
<line x1="1156" y1="2358.5" x2="1212.2" y2="2365.7" stroke="#000" stroke-width="2.5"/>
<line x1="1154" y1="2366" x2="1209" y2="2373" stroke="#000" stroke-width="2.5"/>
<line x1="1212" y1="2118" x2="1300" y2="2128" stroke="#000" stroke-width="2.5"/>
<line x1="1210" y1="2126" x2="1302" y2="2136" stroke="#000" stroke-width="2.5"/>
<ellipse cx="1241.1" cy="2157.7" rx="39.8" ry="25.3" fill="#151515" stroke="#000" stroke-width="3"/>
<ellipse cx="1242.9" cy="2150.4" rx="29.4" ry="14.9" fill="#c8c8ce"/>
<ellipse cx="1243" cy="2152" rx="10" ry="6" fill="#222"/>
<text x="174" y="1634" font-size="55" textLength="398" lengthAdjust="spacingAndGlyphs" font-family="Liberation Sans, sans-serif">M2 x 3mm Screw</text>
<line x1="578.6" y1="1645.5" x2="694" y2="1849" stroke="#000" stroke-width="1.8"/>
<polygon points="704,1866.7 695.4,1840.6 686.6,1845.4" fill="#000"/>
</svg></body></html>
